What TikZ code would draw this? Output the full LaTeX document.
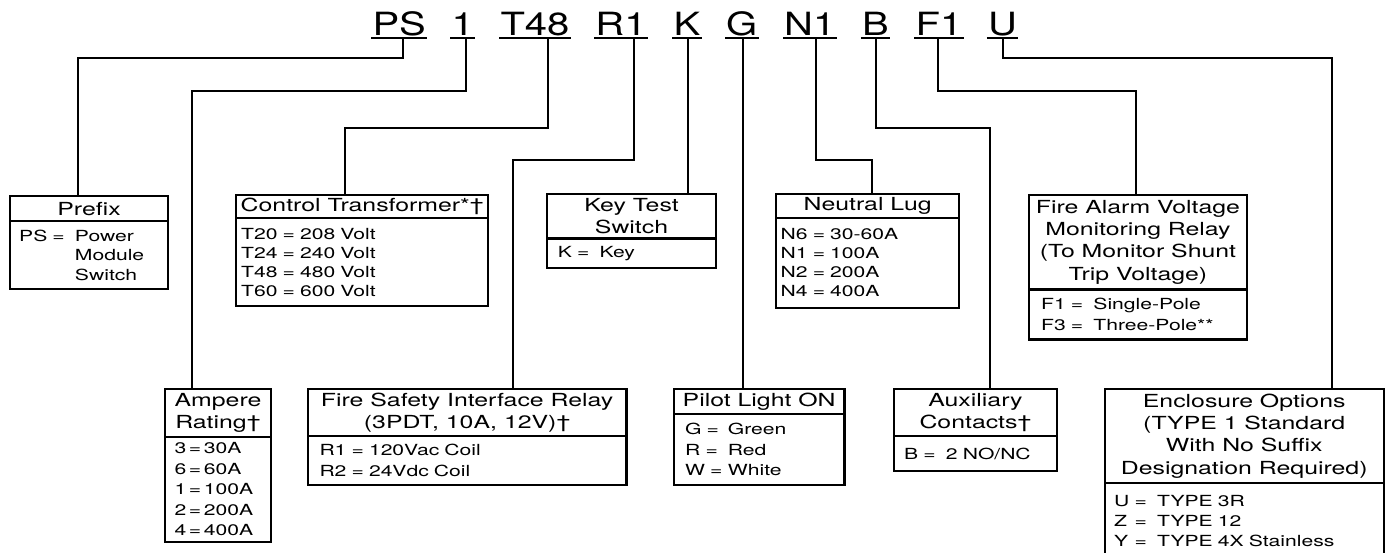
\documentclass[tikz,border=0pt]{standalone}
\usepackage{fontspec}
\setmainfont{TeX Gyre Heros}[FakeStretch=1.38]
\newfontfamily\codefont{TeX Gyre Heros}[FakeStretch=1.25]
\usetikzlibrary{calc}
\newcommand\bxfont[1]{\fontsize{15.3}{#1}\selectfont}
\begin{document}
\begin{tikzpicture}[x=1pt,y=-1pt,line join=miter,
  conn/.style={line width=2pt},
  uline/.style={line width=2pt},
  hdr/.style={draw,line width=2.4pt,anchor=north west,inner sep=0pt,align=center,
    font=\fontsize{18}{22.3}\selectfont},
  bod/.style={draw,line width=2.4pt,anchor=north west,inner ysep=0pt,align=left,
    font=\bxfont{20}},
  code/.style={anchor=base,inner sep=0pt,font=\codefont\fontsize{32}{36}\selectfont}]
\useasboundingbox (0,0) rectangle (1387,552);
\clip (0,0) rectangle (1387,552);
\fill[white] (0,0) rectangle (1387,552);

% ---- code letters ----
\node[code] (PS)  at (399.2,35) {PS};
\node[code] (C1)  at (462.8,35) {1};
\node[code] (T48) at (535,35)   {T48};
\node[code] (R1)  at (621,35)   {R1};
\node[code] (K)   at (687,35)   {K};
\node[code] (G)   at (741.8,35) {G};
\node[code] (N1)  at (809.8,35) {N1};
\node[code] (B)   at (875.5,35) {B};
\node[code] (F1)  at (939,35)   {F1};
\node[code] (U)   at (1002.5,35){U};
\foreach \n in {PS,C1,T48,R1,K,G,N1,B,F1,U}{
  \draw[uline] ($(\n.base west)+(-1,3.3)$) -- ($(\n.base east)+(1,3.3)$);
}

% ---- boxes ----
% Prefix
\node[hdr,minimum width=157.7pt,minimum height=25pt] (pfxH) at (9,195) {Prefix};
\node[bod,minimum height=68pt,inner xsep=9pt,text width=139.7pt,font=\bxfont{19.5}] (pfxB) at (9,220)
  {PS =\ \ Power\\\phantom{PS =\ \ }Module\\\phantom{PS =\ \ }Switch};
% Control transformer
\node[hdr,minimum width=252pt,minimum height=22.7pt] (ctH) at (235,194) {Control Transformer*†};
\node[bod,minimum height=88.3pt,inner xsep=5pt,text width=242pt,font=\bxfont{19}] (ctB) at (235,216.7)
  {T20 = 208 Volt\\T24 = 240 Volt\\T48 = 480 Volt\\T60 = 600 Volt};
% Key test switch
\node[hdr,minimum width=169.3pt,minimum height=44.6pt] (keyH) at (545.7,192.7) {Key Test\\Switch};
\node[bod,minimum height=29.4pt,inner xsep=11pt,text width=147.3pt] (keyB) at (545.7,237.3)
  {K =\ \ Key};
% Neutral lug
\node[hdr,minimum width=183pt,minimum height=23.7pt] (nlH) at (775,193) {Neutral Lug};
\node[bod,minimum height=90pt,inner xsep=4.5pt,text width=174pt,font=\bxfont{19}] (nlB) at (775,216.7)
  {N6 = 30-60A\\N1 = 100A\\N2 = 200A\\N4 = 400A};
% Fire alarm voltage monitoring relay
\node[hdr,minimum width=218.5pt,minimum height=94.8pt] (faH) at (1027.5,193.5)
  {Fire Alarm Voltage\\Monitoring Relay\\(To Monitor Shunt\\Trip Voltage)};
\node[bod,minimum height=50pt,inner xsep=12.5pt,text width=193.5pt,font=\bxfont{21}] (faB) at (1027.5,288.3)
  {F1 =\ \ Single-Pole\\F3 =\ \ Three-Pole**};
% Ampere rating
\node[hdr,minimum width=106.5pt,minimum height=47.5pt] (ampH) at (163.5,388) {Ampere\\Rating†};
\node[bod,minimum height=105.2pt,inner xsep=10pt,text width=86.5pt,font=\bxfont{20.4}] (ampB) at (163.5,435.5)
  {3\,=\,30A\\6\,=\,60A\\1\,=\,100A\\2\,=\,200A\\4\,=\,400A};
% Fire safety interface relay
\node[hdr,minimum width=318.7pt,minimum height=46.5pt] (fsH) at (306.6,388)
  {Fire Safety Interface Relay\\(3PDT, 10A, 12V)†};
\node[bod,minimum height=49.5pt,inner xsep=11.7pt,text width=295.3pt,font=\bxfont{20.7}] (fsB) at (306.6,434.5)
  {R1 = 120Vac Coil\\R2 = 24Vdc Coil};
% Pilot light
\node[hdr,minimum width=170.6pt,minimum height=24.7pt] (plH) at (672.7,388) {Pilot Light ON};
\node[bod,minimum height=71.3pt,inner xsep=11.3pt,text width=148pt,font=\bxfont{20.8}] (plB) at (672.7,412.7)
  {\makebox[42.7pt][l]{G =}Green\\\makebox[42.7pt][l]{R =}Red\\\makebox[42.7pt][l]{W =}White};
% Auxiliary contacts
\node[hdr,minimum width=163.1pt,minimum height=46.5pt] (auxH) at (892.7,388) {Auxiliary\\Contacts†};
\node[bod,minimum height=35.5pt,inner xsep=10.3pt,text width=142.5pt] (auxB) at (892.7,434.5)
  {B =\ \ 2 NO/NC};
% Enclosure options
\node[hdr,minimum width=279pt,minimum height=93.7pt] (enH) at (1103.5,388)
  {Enclosure Options\\(TYPE 1 Standard\\With No Suffix\\Designation Required)};
\node[bod,minimum height=76.3pt,inner xsep=9.5pt,text width=260pt] (enB) at (1103.5,481.7)
  {\makebox[20.5pt][l]{U}=\ \ TYPE 3R\\\makebox[20.5pt][l]{Z}=\ \ TYPE 12\\\makebox[20.5pt][l]{Y}=\ \ TYPE 4X Stainless};

% ---- connectors ----
\coordinate (sPS) at ($(PS.base)+(3.8,3.3)$);
\coordinate (sC1) at ($(C1.base)+(3.2,3.3)$);
\coordinate (sT48) at ($(T48.base)+(13,3.3)$);
\coordinate (sR1) at ($(R1.base)+(12.6,3.3)$);
\coordinate (sK) at ($(K.base)+(0.5,3.3)$);
\coordinate (sG) at ($(G.base)+(1.2,3.3)$);
\coordinate (sN1) at ($(N1.base)+(5.9,3.3)$);
\coordinate (sB) at ($(B.base)+(0.5,3.3)$);
\coordinate (sF1) at ($(F1.base)+(-1,3.3)$);
\coordinate (sU) at ($(U.base)+(0,3.3)$);

\coordinate (bPS) at (78,58);
\coordinate (bC1) at (192,91);
\coordinate (bT48) at (345,128);
\coordinate (bR1) at (513,160);
\coordinate (bN1) at (872,160);
\coordinate (bB) at (990,128);
\coordinate (bF1) at (1136,91);
\coordinate (bU) at (1331.7,58);

\draw[conn] (sPS) |- (bPS) -- (bPS |- pfxH.north);
\draw[conn] (sC1) |- (bC1) -- (bC1 |- ampH.north);
\draw[conn] (sT48) |- (bT48) -- (bT48 |- ctH.north);
\draw[conn] (sR1) |- (bR1) -- (bR1 |- fsH.north);
\draw[conn] (sK) -- (sK |- keyH.north);
\draw[conn] (sG) -- (sG |- plH.north);
\draw[conn] (sN1) |- (bN1) -- (bN1 |- nlH.north);
\draw[conn] (sB) |- (bB) -- (bB |- auxH.north);
\draw[conn] (sF1) |- (bF1) -- (bF1 |- faH.north);
\draw[conn] (sU) |- (bU) -- (bU |- enH.north);
\end{tikzpicture}
\end{document}
